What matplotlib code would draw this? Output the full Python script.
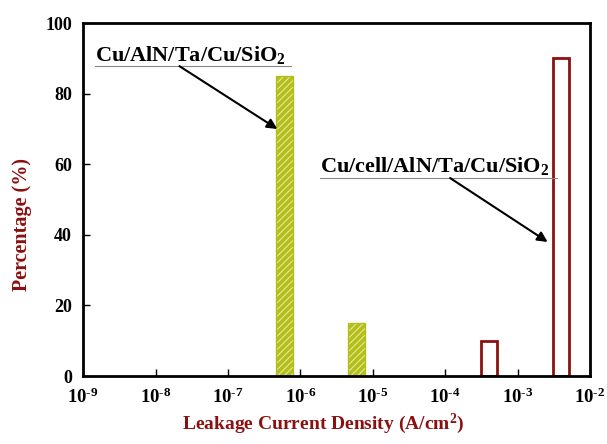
import numpy as np
import matplotlib.pyplot as plt
from matplotlib.ticker import LogLocator, NullLocator, FixedLocator, FuncFormatter

plt.rcParams['font.family'] = ['Liberation Serif', 'DejaVu Serif']
plt.rcParams['font.weight'] = 'bold'
plt.rcParams['mathtext.fontset'] = 'custom'
plt.rcParams['mathtext.rm'] = 'Liberation Serif:bold'
plt.rcParams['mathtext.it'] = 'Liberation Serif:bold:italic'
plt.rcParams['mathtext.bf'] = 'Liberation Serif:bold'
plt.rcParams['hatch.linewidth'] = 0.8

# data
aln_x = [6e-7, 6e-6]          # bin centres (A/cm2)
aln_pct = [85, 15]
cell_x = [4e-4, 4e-3]
cell_pct = [10, 90]
bin_factor = 1.3               # half width of a bin in log space

green = '#b4bf1c'
red = '#8b1010'

fig = plt.figure(figsize=(6.07, 4.44), dpi=100)
ax = fig.add_axes([0.137, 0.153, 0.835, 0.795])
ax.set_xscale('log')

def bars(xc, h, **kw):
    xc = np.array(xc)
    left = xc / bin_factor
    right = xc * bin_factor
    return ax.bar(left, h, width=right - left, align='edge', **kw)

bars(aln_x, aln_pct, color=green, edgecolor='#e3ea98', hatch='/////', linewidth=0)
bars(aln_x, aln_pct, fill=False, edgecolor=green, linewidth=1)
bars(cell_x, cell_pct, facecolor='white', edgecolor=red, linewidth=2)

ax.set_xlim(1e-9, 1e-2)
ax.set_ylim(0, 100)
ax.xaxis.set_major_locator(LogLocator(base=10, numticks=20))
ax.xaxis.set_minor_locator(NullLocator())
ax.xaxis.set_major_formatter(FuncFormatter(lambda v, p: r'$10^{\text{-}%d}$' % abs(round(np.log10(v)))))
ax.yaxis.set_major_locator(FixedLocator([0, 20, 40, 60, 80, 100]))
ax.tick_params(direction='in', length=5, width=1, labelsize=13.5, pad=8)
ax.tick_params(axis='y', labelsize=13, pad=8)
for s in ax.spines.values():
    s.set_linewidth(2)

ax.set_xlabel('Leakage Current Density (A/cm$^2$)', color=red, fontsize=14, fontweight='bold', labelpad=6)
ax.xaxis.set_label_coords(0.473, -0.1)
ax.set_ylabel('Percentage (%)', color=red, fontsize=14.5, fontweight='bold')
ax.yaxis.set_label_coords(-0.10, 0.43)

# annotations
ax.text(0.024, 0.892, 'Cu/AlN/Ta/Cu/SiO$_2$', transform=ax.transAxes, fontsize=16, fontweight='bold', va='baseline')
ax.plot([0.024, 0.41], [0.878, 0.878], transform=ax.transAxes, color='#888888', lw=0.8, clip_on=False)
ax.annotate('', xy=(4.8e-7, 70), xycoords='data', xytext=(0.19, 0.878), textcoords='axes fraction',
            arrowprops=dict(arrowstyle='-|>', color='black', lw=1.5, mutation_scale=15, shrinkA=0, shrinkB=0))

ax.text(0.467, 0.578, 'Cu/cell/AlN/Ta/Cu/SiO$_2$', transform=ax.transAxes, fontsize=16, fontweight='bold', va='baseline')
ax.plot([0.467, 0.935], [0.561, 0.561], transform=ax.transAxes, color='#888888', lw=0.8, clip_on=False)
ax.annotate('', xy=(2.6e-3, 38), xycoords='data', xytext=(0.724, 0.561), textcoords='axes fraction',
            arrowprops=dict(arrowstyle='-|>', color='black', lw=1.5, mutation_scale=15, shrinkA=0, shrinkB=0))

fig.savefig('out.png', dpi=100)
